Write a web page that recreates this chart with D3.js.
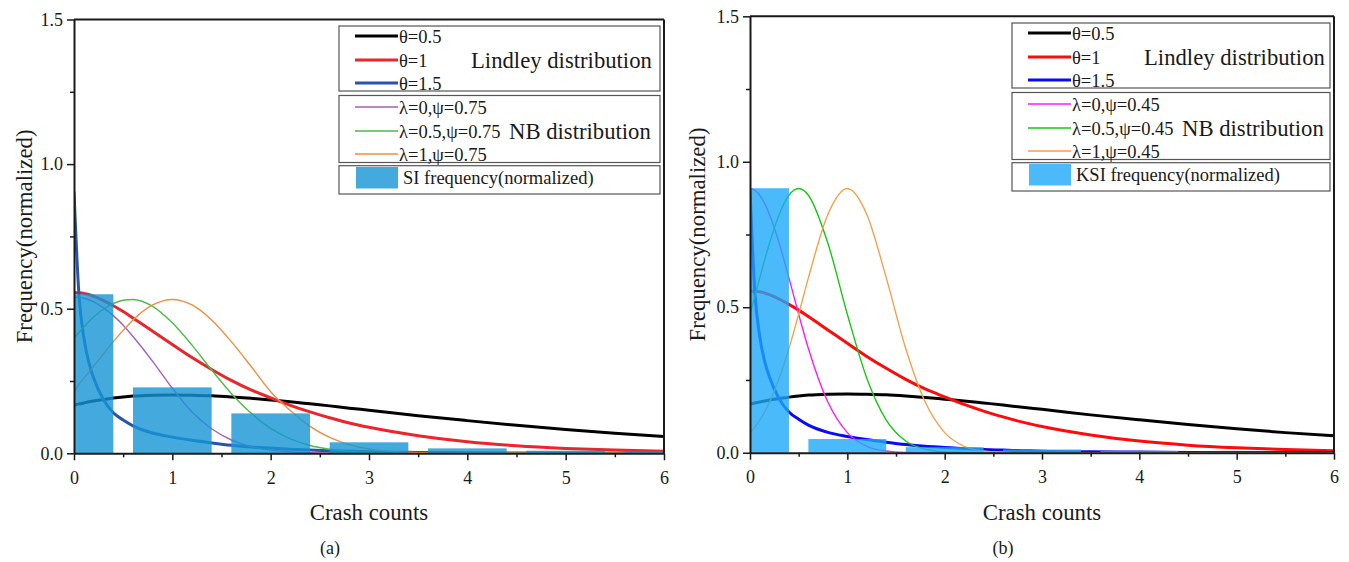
<!DOCTYPE html>
<html lang="en">
<head>
  <meta charset="UTF-8">
  <script src="https://d3js.org/d3.v7.min.js"></script>
  <title>Lindley and NB distributions vs crash frequency</title>
  <style>
    body { margin: 0; background: #fff; }
    svg { display: block; font-family: 'Liberation Serif', 'Times New Roman', serif; }
    .tick text { font-size: 18px; fill: #1a1a1a; font-family: 'Liberation Serif', 'Times New Roman', serif; }
    .tick line, .domain { stroke: #1a1a1a; }
  </style>
</head>
<body>
<script>
  // ---- data ----
  const xGrid = [0, 0.05, 0.1, 0.15, 0.2, 0.3, 0.4, 0.5, 0.6, 0.8, 1.0, 1.2, 1.4, 1.6, 1.8, 2.0,
                 2.2, 2.4, 2.6, 2.8, 3.0, 3.5, 4.0, 4.5, 5.0, 5.5, 6.0];

  // Lindley curves (same in both panels)
  const lindleyT05 = [0.167, 0.171, 0.174, 0.178, 0.181, 0.186, 0.191, 0.195, 0.198, 0.201, 0.202, 0.201, 0.199, 0.195,
                      0.190, 0.184, 0.178, 0.171, 0.164, 0.156, 0.149, 0.130, 0.113, 0.097, 0.082, 0.069, 0.058];
  const lindleyT1 = [0.556, 0.555, 0.553, 0.549, 0.543, 0.528, 0.510, 0.490, 0.468, 0.422, 0.376, 0.331, 0.290, 0.252,
                     0.219, 0.192, 0.166, 0.143, 0.123, 0.105, 0.090, 0.061, 0.040, 0.026, 0.017, 0.011, 0.007];
  const lindleyT15 = [0.905, 0.55, 0.40, 0.315, 0.26, 0.185, 0.140, 0.115, 0.095, 0.070, 0.056, 0.045, 0.036, 0.028,
                      0.022, 0.018, 0.014, 0.011, 0.009, 0.007, 0.005, 0.003, 0.002, 0.001, 0.001, 0.0005, 0.0003];

  // NB curves, panel (a) psi = 0.75
  const nbSiL0 = [0.540, 0.539, 0.536, 0.531, 0.524, 0.503, 0.476, 0.443, 0.404, 0.318, 0.225, 0.143, 0.085, 0.046,
                  0.023, 0.011, 0.005, 0.002, 0.001, 0, 0, 0, 0, 0, 0, 0, 0];
  const nbSiL05 = [0.399, 0.418, 0.437, 0.455, 0.471, 0.499, 0.518, 0.529, 0.532, 0.508, 0.451, 0.374, 0.288, 0.207,
                   0.139, 0.086, 0.050, 0.027, 0.014, 0.006, 0.003, 0, 0, 0, 0, 0, 0];
  const nbSiL1 = [0.213, 0.238, 0.259, 0.280, 0.301, 0.344, 0.386, 0.425, 0.461, 0.513, 0.532, 0.513, 0.461, 0.386,
                  0.301, 0.213, 0.148, 0.093, 0.055, 0.030, 0.015, 0.002, 0, 0, 0, 0, 0];

  // NB curves, panel (b) psi = 0.45
  const nbKsiL0 = [0.908, 0.902, 0.885, 0.857, 0.819, 0.720, 0.601, 0.476, 0.358, 0.174, 0.069, 0.022, 0.006, 0.001,
                   0, 0, 0, 0, 0, 0, 0, 0, 0, 0, 0, 0, 0];
  const nbKsiL05 = [0.476, 0.538, 0.601, 0.662, 0.720, 0.819, 0.885, 0.908, 0.885, 0.720, 0.476, 0.256, 0.112, 0.040,
                    0.012, 0.003, 0.001, 0, 0, 0, 0, 0, 0, 0, 0, 0, 0];
  const nbKsiL1 = [0.069, 0.088, 0.112, 0.140, 0.174, 0.256, 0.358, 0.476, 0.601, 0.819, 0.908, 0.819, 0.601, 0.358,
                   0.174, 0.069, 0.022, 0.006, 0.001, 0, 0, 0, 0, 0, 0, 0, 0];

  // normalized crash frequencies
  const crashCounts = [0, 1, 2, 3, 4, 5, 6];
  const siFreq = [0.55, 0.228, 0.138, 0.038, 0.017, 0.009, 0.007];
  const ksiFreq = [0.909, 0.047, 0.019, 0.011, 0.006, 0.003, 0.002];

  const xTicks = [0, 1, 2, 3, 4, 5, 6];
  const xMinor = [0.5, 1.5, 2.5, 3.5, 4.5, 5.5];
  const yTicks = [0, 0.5, 1.0, 1.5];
  const yMinor = [0.25, 0.75, 1.25];

  const lindleyLabels = ["θ=0.5", "θ=1", "θ=1.5"];
  const nbLabelsSI = ["λ=0,ψ=0.75", "λ=0.5,ψ=0.75", "λ=1,ψ=0.75"];
  const nbLabelsKSI = ["λ=0,ψ=0.45", "λ=0.5,ψ=0.45", "λ=1,ψ=0.45"];

  const serif = "'Liberation Serif', 'Times New Roman', serif";
  const svg = d3.select("body").append("svg").attr("width", 1349).attr("height", 562);

  function drawPanel(p) {
    const x = d3.scaleLinear().domain([0, 6]).range([p.left, p.right]);
    const y = d3.scaleLinear().domain([0, 1.5]).range([p.bottom, p.top]);
    const g = svg.append("g");

    g.append("clipPath").attr("id", p.id + "-clip")
      .append("rect")
      .attr("x", p.left).attr("y", p.top)
      .attr("width", p.right - p.left).attr("height", p.bottom - p.top);

    const line = d3.line()
      .x((d, i) => x(xGrid[i]))
      .y(d => y(d))
      .curve(d3.curveMonotoneX);

    const plot = g.append("g").attr("clip-path", `url(#${p.id}-clip)`);

    // curves: Lindley thick, NB thin
    p.series.forEach(s => {
      plot.append("path")
        .datum(s.values)
        .attr("d", line)
        .attr("fill", "none")
        .attr("stroke", s.color)
        .attr("stroke-width", s.width)
        .attr("stroke-linejoin", "round");
    });

    // bars drawn over the curves, slightly see-through
    plot.selectAll("rect.bar")
      .data(p.freq)
      .join("rect")
      .attr("class", "bar")
      .attr("x", (d, i) => x(crashCounts[i] - 0.4))
      .attr("width", x(0.8) - x(0))
      .attr("y", d => y(d))
      .attr("height", d => y(0) - y(d))
      .attr("fill", p.barColor)
      .attr("fill-opacity", 0.8);

    // frame (top + right)
    g.append("line").attr("x1", p.left).attr("x2", p.right).attr("y1", p.top).attr("y2", p.top)
      .attr("stroke", "#1a1a1a").attr("stroke-width", 2);
    g.append("line").attr("x1", p.right).attr("x2", p.right).attr("y1", p.top).attr("y2", p.bottom)
      .attr("stroke", "#1a1a1a").attr("stroke-width", 2);

    // axes
    g.append("g").attr("transform", `translate(${p.left},0)`)
      .call(d3.axisLeft(y).tickValues(yTicks).tickFormat(d3.format(".1f")).tickSize(7).tickSizeOuter(0).tickPadding(4));
    g.append("g").attr("transform", `translate(${p.left},0)`)
      .call(d3.axisLeft(y).tickValues(yMinor).tickFormat("").tickSize(4).tickSizeOuter(0))
      .select(".domain").remove();
    g.append("g").attr("transform", `translate(0,${p.bottom})`)
      .call(d3.axisBottom(x).tickValues(xTicks).tickFormat(d3.format("d")).tickSize(7).tickSizeOuter(0).tickPadding(11));
    g.append("g").attr("transform", `translate(0,${p.bottom})`)
      .call(d3.axisBottom(x).tickValues(xMinor).tickFormat("").tickSize(4).tickSizeOuter(0))
      .select(".domain").remove();
    g.selectAll(".domain").attr("stroke-width", 2);
    g.selectAll(".tick line").attr("stroke-width", 1.5);
    g.selectAll(".tick text").attr("font-family", serif).attr("font-size", 18);

    // axis titles
    g.append("text")
      .attr("x", (p.left + p.right) / 2).attr("y", 519.5)
      .attr("text-anchor", "middle").attr("font-size", 22.8).attr("fill", "#1a1a1a")
      .text("Crash counts");
    g.append("text")
      .attr("transform", `translate(${p.yTitleX},${(p.top + p.bottom) / 2}) rotate(-90)`)
      .attr("text-anchor", "middle").attr("font-size", 22.8).attr("fill", "#1a1a1a")
      .text("Frequency(normalized)");
    g.append("text")
      .attr("x", p.captionX).attr("y", 554)
      .attr("text-anchor", "middle").attr("font-size", 18).attr("fill", "#1a1a1a")
      .text(p.caption);

    // legend
    const lx = p.legendX, ly = p.legendY, lw = p.legendW;
    const lg = g.append("g");
    const boxes = [[0, 65], [69.5, 67], [139.7, 28.3]];
    boxes.forEach(([top, h]) => {
      lg.append("rect").attr("x", lx).attr("y", ly + top).attr("width", lw).attr("height", h)
        .attr("fill", "#fff").attr("stroke", "#555").attr("stroke-width", 1.2);
    });
    const rowsY = [10, 34, 57, 81, 105, 128];
    const items = p.series.map((s, i) => ({ ...s, label: p.labels[i], cy: ly + rowsY[i] }));
    items.forEach(it => {
      lg.append("line").attr("x1", lx + 16).attr("x2", lx + 59).attr("y1", it.cy).attr("y2", it.cy)
        .attr("stroke", it.color).attr("stroke-width", it.width);
      lg.append("text").attr("x", lx + 60).attr("y", it.cy + 6.5)
        .attr("font-size", 18.5).attr("fill", "#1a1a1a").text(it.label);
    });
    lg.append("text").attr("x", lx + 132).attr("y", ly + 34 + 7.5)
      .attr("font-size", 22.7).attr("fill", "#1a1a1a").text("Lindley distribution");
    lg.append("text").attr("x", lx + 170).attr("y", ly + 105 + 7.5)
      .attr("font-size", 22.7).attr("fill", "#1a1a1a").text("NB distribution");
    lg.append("rect").attr("x", lx + 17).attr("y", ly + 141).attr("width", 42).attr("height", 21.5)
      .attr("fill", p.barColor).attr("fill-opacity", 0.8);
    lg.append("text").attr("x", lx + 64).attr("y", ly + 151.5 + 6.5)
      .attr("font-size", 18.5).attr("fill", "#1a1a1a").text(p.barLabel);
  }

  drawPanel({
    id: "a", left: 74, right: 664, top: 19.5, bottom: 453.3,
    yTitleX: 32, captionX: 330, caption: "(a)",
    legendX: 339, legendY: 26, legendW: 321,
    freq: siFreq, barColor: "rgb(21,149,214)", barLabel: "SI frequency(normalized)",
    labels: lindleyLabels.concat(nbLabelsSI),
    series: [
      { values: lindleyT05, color: "#000000", width: 3 },
      { values: lindleyT1, color: "#e8262b", width: 3 },
      { values: lindleyT15, color: "#2855a8", width: 3 },
      { values: nbSiL0, color: "#a35fbd", width: 1.4 },
      { values: nbSiL05, color: "#4dbb4a", width: 1.4 },
      { values: nbSiL1, color: "#f28c3f", width: 1.4 }
    ]
  });

  drawPanel({
    id: "b", left: 750, right: 1334, top: 16.3, bottom: 452.7,
    yTitleX: 705, captionX: 1003, caption: "(b)",
    legendX: 1012, legendY: 23, legendW: 318,
    freq: ksiFreq, barColor: "rgb(29,169,249)", barLabel: "KSI frequency(normalized)",
    labels: lindleyLabels.concat(nbLabelsKSI),
    series: [
      { values: lindleyT05, color: "#000000", width: 3 },
      { values: lindleyT1, color: "#ff0a0a", width: 3 },
      { values: lindleyT15, color: "#0a0af5", width: 3 },
      { values: nbKsiL0, color: "#ff1aff", width: 1.4 },
      { values: nbKsiL05, color: "#14c814", width: 1.4 },
      { values: nbKsiL1, color: "#f5a04a", width: 1.4 }
    ]
  });
</script>
</body>
</html>
